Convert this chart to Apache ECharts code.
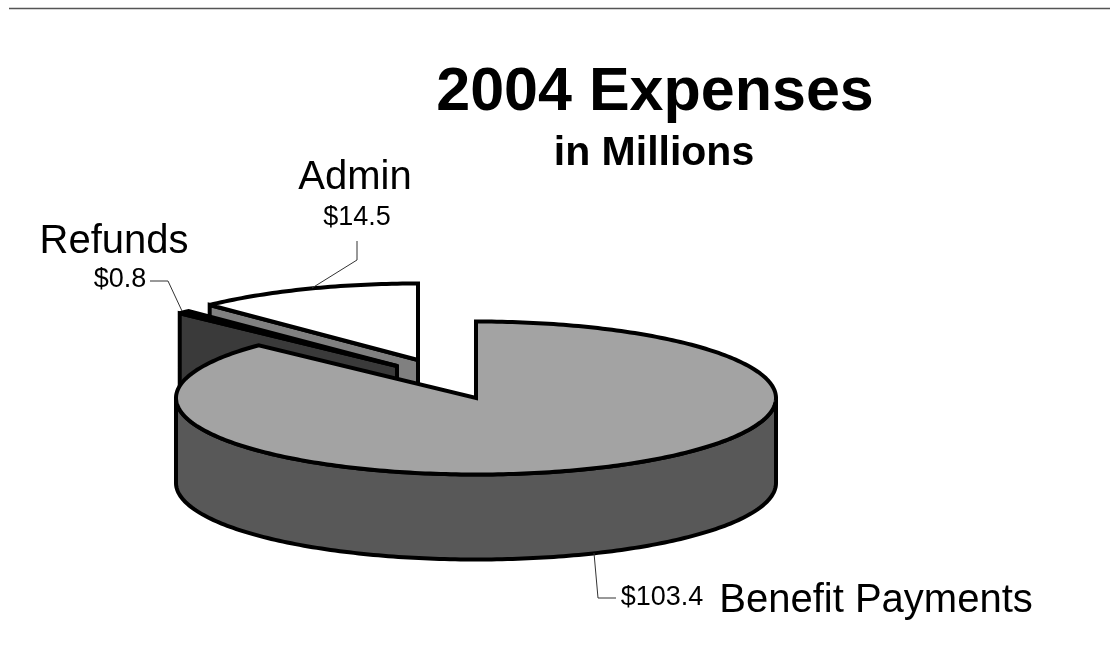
<!DOCTYPE html>
<html>
<head>
<meta charset="utf-8">
<style>html,body{margin:0;padding:0;background:#fff}#chart{width:1110px;height:656px}</style>
<script src="https://cdn.jsdelivr.net/npm/echarts@6/dist/echarts.min.js"></script>
</head>
<body>
<div id="chart"></div>
<script>
// Expense categories, listed counter-clockwise from twelve o'clock
const categories = ['Admin', 'Refunds', 'Benefit Payments'];
const expenses = [14.5, 0.8, 103.4];

// Disc geometry of the tilted pie
const disc = { cx: 476, cy: 398, rx: 300, ry: 76.5, depth: 85 };
const FONT = '"Liberation Sans", Arial, sans-serif';

// Look and placement of each slice, in the same order as the categories
const sliceLook = [
  { top: '#ffffff', side: '#808080', dx: -58, dy: -38,
    leader: [[312, 288], [357, 260], [357, 241]],
    name: { x: 355, y: 178, align: 'center' }, value: { x: 357, y: 218, align: 'center' } },
  { top: '#000000', side: '#3a3a3a', dx: -79, dy: -32,
    leader: [[182, 311], [168, 281], [150, 281]],
    name: { x: 114, y: 242, align: 'center' }, value: { x: 120, y: 280, align: 'center' } },
  { top: '#a3a3a3', side: '#585858', dx: 0, dy: 0,
    leader: [[594, 553], [598, 598], [616, 598]],
    name: { x: 876, y: 601, align: 'center' }, value: { x: 662, y: 598, align: 'center' } }
];

const total = expenses.reduce((a, b) => a + b, 0);

// Angles run clockwise from the top of the disc
function rimPoint(deg, look, drop) {
  const a = deg * Math.PI / 180;
  return [
    disc.cx + look.dx + disc.rx * Math.sin(a),
    disc.cy + look.dy - disc.ry * Math.cos(a) + (drop || 0)
  ];
}

function arcPoints(from, to, look, drop) {
  const steps = Math.max(2, Math.ceil(Math.abs(to - from)));
  const pts = [];
  for (let i = 0; i <= steps; i++) {
    pts.push(rimPoint(from + (to - from) * i / steps, look, drop));
  }
  return pts;
}

function sliceRange(index) {
  let before = 0;
  for (let i = 0; i < index; i++) before += expenses[i];
  const end = 360 - before / total * 360;
  const start = end - expenses[index] / total * 360;
  return [start, end];
}

const edge = { stroke: '#000', lineWidth: 4, lineJoin: 'miter', miterLimit: 3 };

function renderSlice(params, api) {
  const i = params.dataIndex;
  const value = api.value(0);
  const look = sliceLook[i];
  const [start, end] = sliceRange(i);
  const apex = [disc.cx + look.dx, disc.cy + look.dy];
  const children = [];

  // Cut face that turns toward the viewer
  const corner = rimPoint(start, look);
  children.push({
    type: 'polygon',
    shape: { points: [apex, corner, [corner[0], corner[1] + disc.depth], [apex[0], apex[1] + disc.depth]] },
    style: Object.assign({ fill: look.side }, edge)
  });

  // Outer wall, only the front half of the rim can be seen
  const from = Math.max(start, 90);
  const to = Math.min(end, 270);
  if (to > from) {
    const upper = arcPoints(from, to, look);
    const lower = arcPoints(to, from, look, disc.depth);
    children.push({
      type: 'polygon',
      shape: { points: upper.concat(lower) },
      style: Object.assign({ fill: look.side }, edge)
    });
  }

  // Top face
  children.push({
    type: 'polygon',
    shape: { points: [apex].concat(arcPoints(start, end, look)) },
    style: Object.assign({ fill: look.top }, edge)
  });

  // Leader line and labels
  children.push({
    type: 'polyline',
    shape: { points: look.leader },
    style: { stroke: '#333', lineWidth: 1, fill: null }
  });
  children.push({
    type: 'text',
    style: {
      text: categories[i], x: look.name.x, y: look.name.y, fill: '#000',
      font: '40px ' + FONT, align: look.name.align, verticalAlign: 'middle'
    }
  });
  children.push({
    type: 'text',
    style: {
      text: '$' + value.toFixed(1), x: look.value.x, y: look.value.y, fill: '#000',
      font: '27px ' + FONT, align: look.value.align, verticalAlign: 'middle'
    }
  });
  return { type: 'group', children };
}

const chart = echarts.init(document.getElementById('chart'), null, { renderer: 'canvas' });
chart.setOption({
  backgroundColor: '#ffffff',
  animation: false,
  title: [
    { text: '2004 Expenses', left: 650, top: 58, textAlign: 'center',
      textStyle: { fontFamily: FONT, fontSize: 61, fontWeight: 'bold', color: '#000' } },
    { text: 'in Millions', left: 649, top: 128, textAlign: 'center',
      textStyle: { fontFamily: FONT, fontSize: 41, fontWeight: 'bold', color: '#000' } }
  ],
  graphic: [
    { type: 'line', shape: { x1: 9, y1: 8.5, x2: 1110, y2: 8.5 }, style: { stroke: '#555', lineWidth: 1.5 } }
  ],
  series: [{
    type: 'custom',
    coordinateSystem: 'none',
    renderItem: renderSlice,
    data: expenses.map((v, i) => ({ name: categories[i], value: [v] }))
  }]
});
</script>
</body>
</html>
